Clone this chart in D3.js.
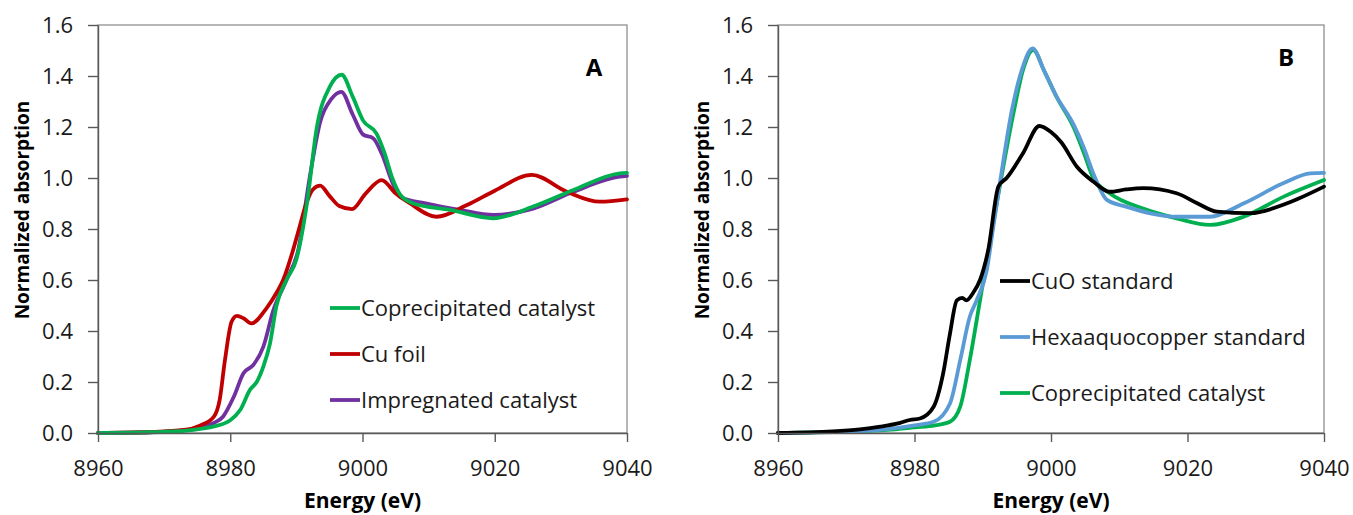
<!DOCTYPE html>
<html>
<head>
<meta charset="utf-8">
<script src="https://cdn.jsdelivr.net/npm/d3@7"></script>
<style>
  body { margin: 0; background: #fff; }
  svg { font-family: "Open Sans", sans-serif; }
</style>
</head>
<body>
<svg id="chart" width="1353" height="515"></svg>
<script>
/*
Cu K-edge XANES spectra, two panels.
Each series is a list of [energy (eV), normalized absorption].
 */
const energyTicks = [8960, 8980, 9000, 9020, 9040];
const absorbTicks = [0, 0.2, 0.4, 0.6, 0.8, 1.0, 1.2, 1.4, 1.6];

// Panel A
const coprecipA = [[8960,0],[8968,0.003],[8973,0.008],[8976,0.018],[8977.4,0.025],[8980,0.05],[8981.5,0.09],
    [8983,0.17],[8984,0.2],[8985,0.26],[8986,0.35],[8987,0.5],[8988.5,0.6],[8990,0.68],[8991.6,0.9],
    [8993.1,1.2],[8995.1,1.36],[8996.85,1.405],[8998.5,1.32],[9000.1,1.225],[9002.1,1.175],[9003.3,1.1],
    [9004.5,1.0],[9005.7,0.935],[9007.7,0.9],[9013.2,0.875],[9019.8,0.842],[9025.8,0.888],[9031.9,0.953],
    [9038.9,1.018],[9040,1.02]];
const cuFoil = [[8960,0],[8968,0.004],[8973,0.012],[8975.5,0.03],[8977.5,0.063],[8978.4,0.13],[8979.2,0.286],
    [8980.2,0.436],[8981,0.459],[8982,0.45],[8983.2,0.43],[8985.5,0.49],[8987,0.55],[8988,0.6],[8989.3,0.7],
    [8990.5,0.81],[8991.5,0.9],[8992.5,0.955],[8993.6,0.97],[8995,0.93],[8996.5,0.89],[8998.4,0.878],
    [9000.5,0.94],[9002.9,0.992],[9005,0.94],[9007.2,0.9],[9011.2,0.848],[9015.8,0.894],[9020,0.95],
    [9025.6,1.012],[9030.9,0.946],[9035.9,0.907],[9040,0.916]];
const impregA = [[8960,0],[8968,0.003],[8973,0.01],[8976,0.025],[8977.4,0.038],[8978.9,0.064],[8980.5,0.14],
    [8982,0.234],[8983.5,0.267],[8985,0.338],[8986.5,0.48],[8988.5,0.6],[8990.3,0.72],[8992,1.0],
    [8993.6,1.22],[8995.3,1.31],[8996.8,1.338],[8998.5,1.25],[9000.1,1.17],[9001.6,1.156],[9003,1.09],
    [9004.4,0.99],[9005.7,0.925],[9009.7,0.9],[9014.7,0.875],[9019.8,0.855],[9025.8,0.88],[9031.9,0.946],
    [9038.9,1.005],[9040,1.008]];

// Panel B
const cuoStd = [[8960,0],[8968,0.006],[8972,0.014],[8975,0.025],[8977.9,0.04],[8979.3,0.051],[8980.8,0.057],
    [8982.8,0.103],[8984.2,0.234],[8985.2,0.39],[8986.2,0.52],[8987,0.53],[8987.6,0.52],[8988.6,0.55],
    [8989.6,0.6],[8990.8,0.717],[8992.3,0.967],[8993.5,1.0],[8995.9,1.097],[8998.3,1.204],[9000,1.18],
    [9001.5,1.14],[9003.8,1.044],[9006.2,0.986],[9008.6,0.946],[9011,0.955],[9013.5,0.96],[9018.4,0.94],
    [9021.5,0.9],[9024.3,0.868],[9029.2,0.862],[9034.5,0.9],[9040,0.966]];
const hexaStd = [[8960,0],[8970,0.005],[8976,0.015],[8980,0.03],[8982.8,0.044],[8985.2,0.116],[8986.7,0.286],
    [8988.1,0.456],[8989.1,0.52],[8990.6,0.64],[8991.5,0.8],[8992.4,0.96],[8994.3,1.27],[8995.8,1.43],
    [8997.3,1.508],[8999,1.42],[9000.8,1.32],[9003.3,1.21],[9004.8,1.12],[9006.2,1.018],[9008.2,0.914],
    [9011.1,0.887],[9018.4,0.848],[9023.3,0.848],[9028.2,0.9],[9034.1,0.98],[9038,1.018],[9040,1.02]];
const coprecipB = [[8960,0],[8970,0.005],[8976,0.012],[8980,0.022],[8983,0.03],[8985.2,0.044],[8986.7,0.103],
    [8988.1,0.286],[8989.6,0.52],[8990.6,0.678],[8992.4,0.953],[8994.5,1.254],[8995.9,1.424],[8997.4,1.502],
    [8999,1.42],[9000.8,1.319],[9003.3,1.2],[9004.8,1.1],[9006.2,1.0],[9008.6,0.94],[9013.5,0.88],
    [9018.4,0.842],[9023.3,0.816],[9028.2,0.848],[9034.1,0.927],[9040,0.992]];

const panels = [
    { label: "A", left: 98, right: 627, labelX: 594, labelY: 76,
      legend: { x: 330, y: 308, step: 46 },
      series: [
        { name: "Coprecipitated catalyst", data: coprecipA, color: "#00b050" },
        { name: "Cu foil", data: cuFoil, color: "#c00000" },
        { name: "Impregnated catalyst", data: impregA, color: "#7030a0" }
      ] },
    { label: "B", left: 778, right: 1324, labelX: 1286, labelY: 66,
      legend: { x: 1000, y: 281, step: 56 },
      series: [
        { name: "CuO standard", data: cuoStd, color: "#000000" },
        { name: "Hexaaquocopper standard", data: hexaStd, color: "#5b9bd5" },
        { name: "Coprecipitated catalyst", data: coprecipB, color: "#00b050" }
      ] }
];

const plotTop = 25;
const plotBottom = 433;
const svg = d3.select("#chart");

panels.forEach(function(p) {
    var x = d3.scaleLinear().domain([8960, 9040]).range([p.left, p.right]);
    var y = d3.scaleLinear().domain([0, 1.6]).range([plotBottom, plotTop]);
    var g = svg.append("g");

    //plot area border
    g.append("rect")
        .attr("x", p.left).attr("y", plotTop)
        .attr("width", p.right - p.left).attr("height", plotBottom - plotTop)
        .attr("fill", "none").attr("stroke", "#868686").attr("stroke-width", 1.2);

    var line = d3.line()
        .x(function(d) { return x(d[0]); })
        .y(function(d) { return y(d[1]); })
        .curve(d3.curveMonotoneX);

    // draw in reverse so the first legend entry sits on top like the source
    p.series.slice().reverse().forEach(function(s) {
        g.append("path")
            .datum(s.data)
            .attr("d", line)
            .attr("fill", "none")
            .attr("stroke", s.color)
            .attr("stroke-width", 3.8)
            .attr("stroke-linejoin", "round")
            .attr("stroke-linecap", "round");
    });

    var yAxis = g.append("g")
        .attr("transform", "translate(" + p.left + ",0)")
        .call(d3.axisLeft(y).tickValues(absorbTicks).tickFormat(d3.format(".1f"))
            .tickSize(10).tickSizeOuter(0).tickPadding(15));
    var xAxis = g.append("g")
        .attr("transform", "translate(0," + plotBottom + ")")
        .call(d3.axisBottom(x).tickValues(energyTicks).tickFormat(d3.format("d"))
            .tickSize(9).tickSizeOuter(0).tickPadding(18));

    [yAxis, xAxis].forEach(function(a) {
        a.select(".domain").attr("stroke", "#595959").attr("stroke-width", 1.4);
        a.selectAll(".tick line").attr("stroke", "#595959").attr("stroke-width", 1.4);
        a.selectAll(".tick text").attr("fill", "#1a1a1a")
            .style("font-size", "22px").style("font-family", "'Open Sans', sans-serif");
    });

    //axis titles
    g.append("text")
        .attr("x", (p.left + p.right) / 2).attr("y", 508)
        .attr("text-anchor", "middle")
        .style("font-size", "21px").style("font-weight", "bold")
        .text("Energy (eV)");
    g.append("text")
        .attr("transform", "translate(" + (p.left - 69) + ",210) rotate(-90)")
        .attr("text-anchor", "middle")
        .style("font-size", "19px").style("font-weight", "bold")
        .text("Normalized absorption");

    g.append("text")
        .attr("x", p.labelX).attr("y", p.labelY)
        .attr("text-anchor", "middle")
        .style("font-size", "24px").style("font-weight", "bold")
        .text(p.label);

    //legend
    p.series.forEach(function(s, i) {
        var ly = p.legend.y + i * p.legend.step;
        g.append("line")
            .attr("x1", p.legend.x).attr("x2", p.legend.x + 30)
            .attr("y1", ly).attr("y2", ly)
            .attr("stroke", s.color).attr("stroke-width", 3.8);
        g.append("text")
            .attr("x", p.legend.x + 31).attr("y", ly)
            .attr("dy", "0.35em")
            .style("font-size", "22px")
            .attr("fill", "#1a1a1a")
            .text(s.name);
    });
});
</script>
</body>
</html>
